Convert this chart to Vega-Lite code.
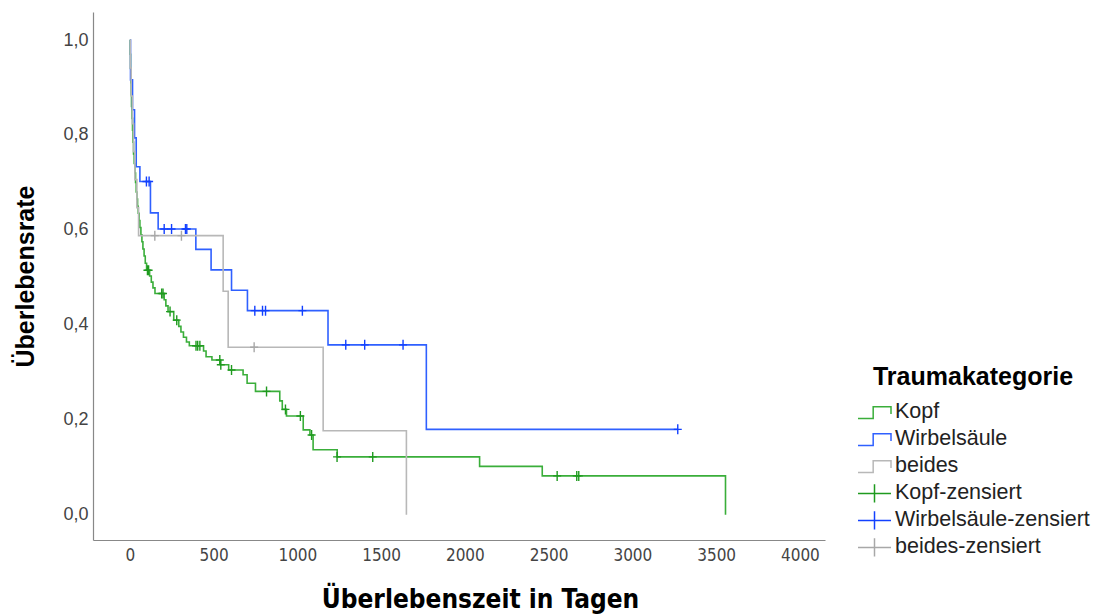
{
  "$schema": "https://vega.github.io/schema/vega-lite/v6.json",
  "width": 732,
  "height": 528,
  "autosize": {"type": "none"},
  "padding": {"left": 93, "top": 12, "right": 271, "bottom": 75},
  "background": "white",
  "config": {
    "view": {"stroke": null},
    "font": "Liberation Sans"
  },
  "datasets": {
    "kurven": [
      {"serie": "Kopf", "t": 0, "s": 1.0},
      {"serie": "Kopf", "t": 2, "s": 0.97},
      {"serie": "Kopf", "t": 4, "s": 0.94},
      {"serie": "Kopf", "t": 6, "s": 0.91},
      {"serie": "Kopf", "t": 8, "s": 0.885},
      {"serie": "Kopf", "t": 10, "s": 0.86},
      {"serie": "Kopf", "t": 13, "s": 0.835},
      {"serie": "Kopf", "t": 16, "s": 0.81},
      {"serie": "Kopf", "t": 19, "s": 0.785},
      {"serie": "Kopf", "t": 22, "s": 0.76},
      {"serie": "Kopf", "t": 26, "s": 0.74},
      {"serie": "Kopf", "t": 30, "s": 0.72},
      {"serie": "Kopf", "t": 34, "s": 0.7},
      {"serie": "Kopf", "t": 38, "s": 0.68},
      {"serie": "Kopf", "t": 42, "s": 0.665},
      {"serie": "Kopf", "t": 46, "s": 0.65},
      {"serie": "Kopf", "t": 50, "s": 0.635},
      {"serie": "Kopf", "t": 55, "s": 0.62},
      {"serie": "Kopf", "t": 60, "s": 0.605},
      {"serie": "Kopf", "t": 66, "s": 0.59},
      {"serie": "Kopf", "t": 72, "s": 0.575},
      {"serie": "Kopf", "t": 78, "s": 0.56},
      {"serie": "Kopf", "t": 85, "s": 0.545},
      {"serie": "Kopf", "t": 92, "s": 0.53},
      {"serie": "Kopf", "t": 100, "s": 0.515},
      {"serie": "Kopf", "t": 118, "s": 0.503},
      {"serie": "Kopf", "t": 128, "s": 0.49},
      {"serie": "Kopf", "t": 138, "s": 0.478},
      {"serie": "Kopf", "t": 150, "s": 0.466},
      {"serie": "Kopf", "t": 205, "s": 0.453},
      {"serie": "Kopf", "t": 215, "s": 0.44},
      {"serie": "Kopf", "t": 228, "s": 0.428},
      {"serie": "Kopf", "t": 262, "s": 0.41},
      {"serie": "Kopf", "t": 292, "s": 0.397},
      {"serie": "Kopf", "t": 305, "s": 0.385},
      {"serie": "Kopf", "t": 320, "s": 0.374},
      {"serie": "Kopf", "t": 338, "s": 0.364},
      {"serie": "Kopf", "t": 355, "s": 0.356},
      {"serie": "Kopf", "t": 440, "s": 0.345},
      {"serie": "Kopf", "t": 455, "s": 0.333},
      {"serie": "Kopf", "t": 490, "s": 0.326},
      {"serie": "Kopf", "t": 540, "s": 0.316},
      {"serie": "Kopf", "t": 590, "s": 0.305},
      {"serie": "Kopf", "t": 676, "s": 0.295},
      {"serie": "Kopf", "t": 700, "s": 0.277},
      {"serie": "Kopf", "t": 750, "s": 0.26},
      {"serie": "Kopf", "t": 895, "s": 0.24},
      {"serie": "Kopf", "t": 910, "s": 0.222},
      {"serie": "Kopf", "t": 935, "s": 0.208},
      {"serie": "Kopf", "t": 1035, "s": 0.179},
      {"serie": "Kopf", "t": 1075, "s": 0.168},
      {"serie": "Kopf", "t": 1094, "s": 0.137},
      {"serie": "Kopf", "t": 1238, "s": 0.122},
      {"serie": "Kopf", "t": 2088, "s": 0.102},
      {"serie": "Kopf", "t": 2462, "s": 0.082},
      {"serie": "Kopf", "t": 3556, "s": 0.0},
      {"serie": "Wirbelsäule", "t": 0, "s": 1.0},
      {"serie": "Wirbelsäule", "t": 4, "s": 0.916},
      {"serie": "Wirbelsäule", "t": 16, "s": 0.853},
      {"serie": "Wirbelsäule", "t": 28, "s": 0.794},
      {"serie": "Wirbelsäule", "t": 38, "s": 0.733},
      {"serie": "Wirbelsäule", "t": 60, "s": 0.702},
      {"serie": "Wirbelsäule", "t": 123, "s": 0.636},
      {"serie": "Wirbelsäule", "t": 169, "s": 0.602},
      {"serie": "Wirbelsäule", "t": 394, "s": 0.559},
      {"serie": "Wirbelsäule", "t": 485, "s": 0.516},
      {"serie": "Wirbelsäule", "t": 607, "s": 0.473},
      {"serie": "Wirbelsäule", "t": 702, "s": 0.43},
      {"serie": "Wirbelsäule", "t": 1183, "s": 0.358},
      {"serie": "Wirbelsäule", "t": 1770, "s": 0.18},
      {"serie": "Wirbelsäule", "t": 3271, "s": 0.18},
      {"serie": "beides", "t": 0, "s": 1.0},
      {"serie": "beides", "t": 3, "s": 0.941},
      {"serie": "beides", "t": 8, "s": 0.882},
      {"serie": "beides", "t": 15, "s": 0.824},
      {"serie": "beides", "t": 22, "s": 0.765},
      {"serie": "beides", "t": 30, "s": 0.706},
      {"serie": "beides", "t": 42, "s": 0.647},
      {"serie": "beides", "t": 52, "s": 0.588},
      {"serie": "beides", "t": 557, "s": 0.471},
      {"serie": "beides", "t": 587, "s": 0.353},
      {"serie": "beides", "t": 1154, "s": 0.177},
      {"serie": "beides", "t": 1651, "s": 0.0}
    ],
    "zensiert": [
      {"serie": "Kopf-zensiert", "t": 105, "s": 0.515},
      {"serie": "Kopf-zensiert", "t": 112, "s": 0.515},
      {"serie": "Kopf-zensiert", "t": 190, "s": 0.466},
      {"serie": "Kopf-zensiert", "t": 198, "s": 0.466},
      {"serie": "Kopf-zensiert", "t": 240, "s": 0.428},
      {"serie": "Kopf-zensiert", "t": 280, "s": 0.41},
      {"serie": "Kopf-zensiert", "t": 395, "s": 0.356},
      {"serie": "Kopf-zensiert", "t": 405, "s": 0.356},
      {"serie": "Kopf-zensiert", "t": 418, "s": 0.356},
      {"serie": "Kopf-zensiert", "t": 537, "s": 0.326},
      {"serie": "Kopf-zensiert", "t": 543, "s": 0.316},
      {"serie": "Kopf-zensiert", "t": 607, "s": 0.305},
      {"serie": "Kopf-zensiert", "t": 816, "s": 0.26},
      {"serie": "Kopf-zensiert", "t": 929, "s": 0.222},
      {"serie": "Kopf-zensiert", "t": 1018, "s": 0.208},
      {"serie": "Kopf-zensiert", "t": 1085, "s": 0.168},
      {"serie": "Kopf-zensiert", "t": 1237, "s": 0.122},
      {"serie": "Kopf-zensiert", "t": 1450, "s": 0.122},
      {"serie": "Kopf-zensiert", "t": 2551, "s": 0.082},
      {"serie": "Kopf-zensiert", "t": 2668, "s": 0.082},
      {"serie": "Kopf-zensiert", "t": 2680, "s": 0.082},
      {"serie": "Wirbelsäule-zensiert", "t": 99, "s": 0.702},
      {"serie": "Wirbelsäule-zensiert", "t": 115, "s": 0.702},
      {"serie": "Wirbelsäule-zensiert", "t": 205, "s": 0.602},
      {"serie": "Wirbelsäule-zensiert", "t": 249, "s": 0.602},
      {"serie": "Wirbelsäule-zensiert", "t": 332, "s": 0.602},
      {"serie": "Wirbelsäule-zensiert", "t": 340, "s": 0.602},
      {"serie": "Wirbelsäule-zensiert", "t": 746, "s": 0.43},
      {"serie": "Wirbelsäule-zensiert", "t": 792, "s": 0.43},
      {"serie": "Wirbelsäule-zensiert", "t": 810, "s": 0.43},
      {"serie": "Wirbelsäule-zensiert", "t": 1030, "s": 0.43},
      {"serie": "Wirbelsäule-zensiert", "t": 1289, "s": 0.358},
      {"serie": "Wirbelsäule-zensiert", "t": 1402, "s": 0.358},
      {"serie": "Wirbelsäule-zensiert", "t": 1631, "s": 0.358},
      {"serie": "Wirbelsäule-zensiert", "t": 3271, "s": 0.18},
      {"serie": "beides-zensiert", "t": 149, "s": 0.588},
      {"serie": "beides-zensiert", "t": 308, "s": 0.588},
      {"serie": "beides-zensiert", "t": 742, "s": 0.353}
    ]
  },
  "encoding": {
    "x": {
      "field": "t",
      "type": "quantitative",
      "scale": {"domain": [-220, 4150], "nice": false, "zero": false},
      "axis": {
        "title": "Überlebenszeit in Tagen",
        "values": [0, 500, 1000, 1500, 2000, 2500, 3000, 3500, 4000],
        "format": "d",
        "grid": false,
        "ticks": false,
        "domainColor": "#888888",
        "domainWidth": 1.2,
        "labelFont": "DejaVu Sans Condensed, Liberation Sans, sans-serif",
        "labelFontSize": 17,
        "labelColor": "#444444",
        "labelPadding": 7,
        "titleFont": "DejaVu Sans Condensed, Liberation Sans, sans-serif",
        "titleFontSize": 26,
        "titleFontWeight": "bold",
        "titleColor": "#000000",
        "titlePadding": 23,
        "titleX": 387
      }
    },
    "y": {
      "field": "s",
      "type": "quantitative",
      "scale": {"domain": [-0.053, 1.059], "nice": false, "zero": false},
      "axis": {
        "title": "Überlebensrate",
        "values": [0, 0.2, 0.4, 0.6, 0.8, 1.0],
        "format": ".1f",
        "labelExpr": "replace(datum.label, '.', ',')",
        "grid": false,
        "ticks": false,
        "domainColor": "#888888",
        "domainWidth": 1.2,
        "labelFont": "Liberation Sans",
        "labelFontSize": 18,
        "labelColor": "#444444",
        "labelPadding": 5,
        "titleFont": "Liberation Sans",
        "titleFontSize": 25,
        "titleFontWeight": "bold",
        "titleColor": "#000000",
        "titlePadding": 24
      }
    }
  },
  "layer": [
    {
      "data": {"name": "kurven"},
      "mark": {"type": "line", "interpolate": "step-after", "strokeWidth": 1.6},
      "encoding": {
        "color": {
          "field": "serie",
          "type": "nominal",
          "scale": {
            "domain": ["Kopf", "Wirbelsäule", "beides", "Kopf-zensiert", "Wirbelsäule-zensiert", "beides-zensiert"],
            "range": ["#3aae3a", "#2f60ff", "#b8b8b8", "#1f9a1f", "#1240ff", "#a8a8a8"]
          },
          "legend": {
            "title": "Traumakategorie",
            "orient": "none",
            "legendX": 764,
            "legendY": 353,
            "titleFont": "Liberation Sans",
            "titleFontSize": 25,
            "titleFontWeight": "bold",
            "titleColor": "#000000",
            "titleAnchor": "middle",
            "titlePadding": 9,
            "titleLimit": 400,
            "labelFont": "Liberation Sans",
            "labelFontSize": 21.5,
            "labelColor": "#222222",
            "labelOffset": 3,
            "labelLimit": 400,
            "symbolSize": 1089,
            "symbolStrokeWidth": 1.5,
            "clipHeight": 26.8,
            "rowPadding": 0,
            "encode": {
              "symbols": {
                "update": {
                  "shape": {"signal": "indexof(datum.value, 'zensiert') >= 0 ? 'M-1,0H1M0,-0.55V0.55' : 'M-1,0.37H-0.08V-0.35H1V0.1'"},
                  "fill": {"value": "transparent"},
                  "stroke": {"scale": "color", "field": "value"},
                  "strokeWidth": {"value": 1.5},
                  "size": {"value": 1089}
                }
              }
            }
          }
        }
      }
    },
    {
      "data": {"name": "zensiert"},
      "mark": {"type": "point", "shape": "M-0.8,0H0.8M0,-1V1", "filled": false, "size": 100, "strokeWidth": 1.4, "opacity": 1},
      "encoding": {
        "color": {"field": "serie", "type": "nominal"}
      }
    }
  ]
}
